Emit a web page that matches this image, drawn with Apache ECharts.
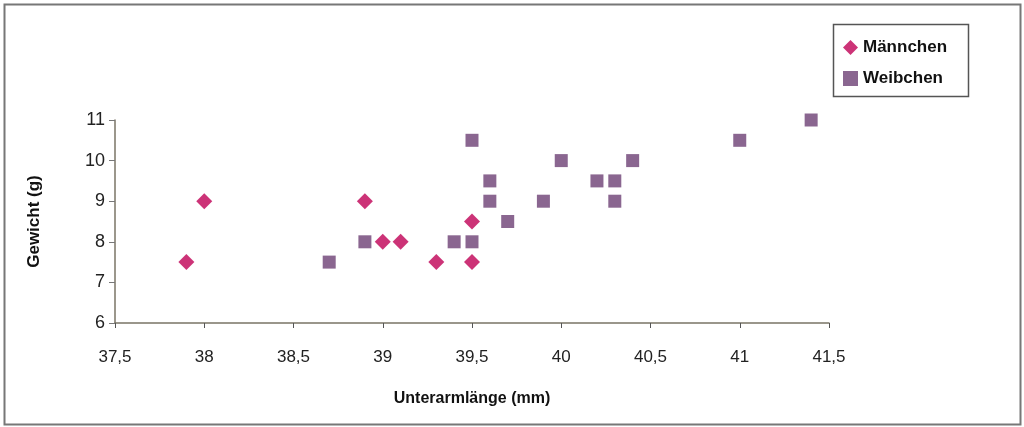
<!DOCTYPE html>
<html><head><meta charset="utf-8">
<script src="https://cdn.jsdelivr.net/npm/echarts@6/dist/echarts.min.js"></script>
<style>html,body{margin:0;padding:0;background:#fff}#c{width:1024px;height:427px}</style>
</head><body><div id="c"></div>
<script>
const maleX = [37.9, 38.0, 38.9, 39.0, 39.1, 39.3, 39.5, 39.5];
const maleY = [7.5, 9, 9, 8, 8, 7.5, 8.5, 7.5];
const femaleX = [38.7, 38.9, 39.4, 39.5, 39.5, 39.6, 39.6, 39.7, 39.9, 40.0, 40.2, 40.3, 40.3, 40.4, 41.0, 41.4];
const femaleY = [7.5, 8, 8, 8, 10.5, 9.5, 9, 8.5, 9, 10, 9.5, 9.5, 9, 10, 10.5, 11];
const seriesNames = ['Männchen', 'Weibchen'];
const xTitle = 'Unterarmlänge (mm)';
const yTitle = 'Gewicht (g)';

const font = '"Liberation Sans",Arial,sans-serif';
const chart = echarts.init(document.getElementById('c'), null, {renderer: 'canvas'});
chart.setOption({
  backgroundColor: '#fff',
  animation: false,
  graphic: [{
    type: 'rect', shape: {x: 4.5, y: 4.5, width: 1016, height: 420},
    style: {fill: 'none', stroke: '#777', lineWidth: 2}, silent: true
  }, {
    type: 'rect', shape: {x: 833.5, y: 24.5, width: 135, height: 72},
    style: {fill: '#fff', stroke: '#555', lineWidth: 1.5}, silent: true, z: -1
  }],
  legend: {
    orient: 'vertical', left: 838, top: 34, itemGap: 14,
    itemWidth: 15, itemHeight: 15,
    textStyle: {fontFamily: font, fontSize: 17, fontWeight: 'bold', color: '#111'},
    data: [{name: seriesNames[0], icon: 'diamond'}, {name: seriesNames[1], icon: 'rect'}]
  },
  grid: {left: 115, right: 195, top: 120, bottom: 104},
  xAxis: {
    type: 'value', min: 37.5, max: 41.5, interval: 0.5,
    name: xTitle, nameLocation: 'middle', nameGap: 68,
    nameTextStyle: {fontFamily: font, fontSize: 16, fontWeight: 'bold', color: '#111'},
    axisLine: {lineStyle: {color: '#7a7466', width: 1.5}},
    axisTick: {show: true, length: 5, lineStyle: {color: '#555'}},
    axisLabel: {fontFamily: font, fontSize: 17, color: '#222', margin: 26,
      formatter: v => String(v).replace('.', ',')},
    splitLine: {show: false}
  },
  yAxis: {
    type: 'value', min: 6, max: 11, interval: 1,
    name: yTitle, nameLocation: 'middle', nameGap: 72, nameRotate: 90,
    nameTextStyle: {fontFamily: font, fontSize: 17, fontWeight: 'bold', color: '#111'},
    axisLine: {show: true, lineStyle: {color: '#7a7466', width: 1.5}},
    axisTick: {show: true, length: 6, lineStyle: {color: '#777'}},
    axisLabel: {fontFamily: font, fontSize: 18, color: '#222', margin: 10},
    splitLine: {show: false}
  },
  series: [{
    name: seriesNames[0], type: 'scatter', symbol: 'diamond', symbolSize: 16,
    itemStyle: {color: '#cc3377', opacity: 1},
    data: maleX.map((x, i) => [x, maleY[i]]), z: 3
  }, {
    name: seriesNames[1], type: 'scatter', symbol: 'rect', symbolSize: 13,
    itemStyle: {color: '#8a6690', opacity: 1},
    data: femaleX.map((x, i) => [x, femaleY[i]]), z: 2
  }]
});
</script></body></html>
